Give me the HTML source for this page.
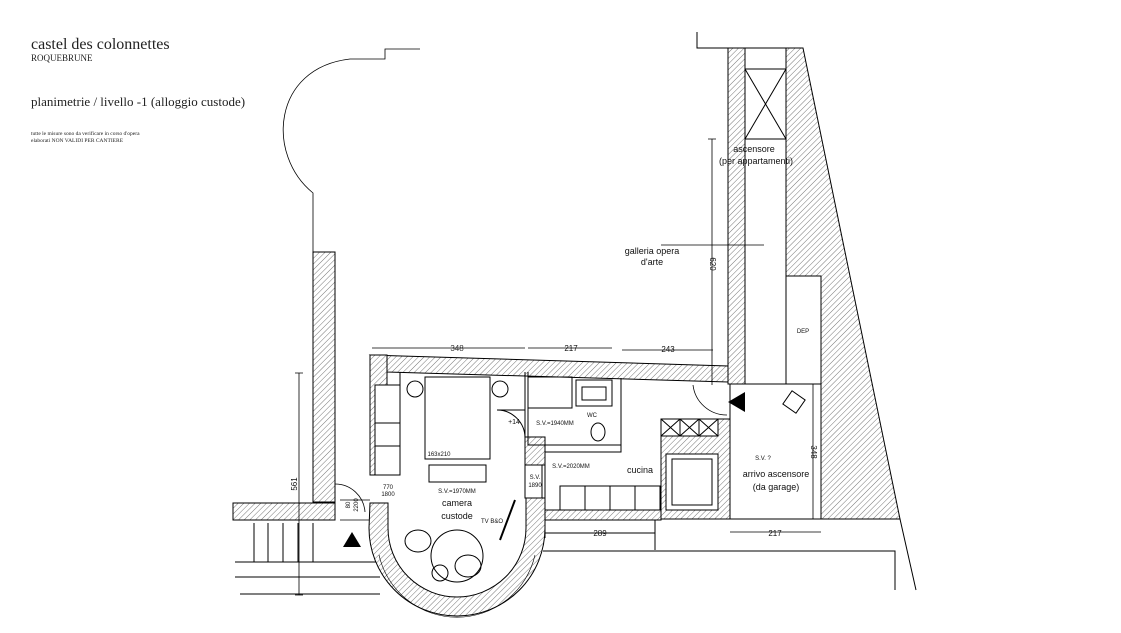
<!DOCTYPE html>
<html><head><meta charset="utf-8"><style>
body{margin:0;background:#fff;width:1121px;height:633px;overflow:hidden}
svg{display:block}
.t{font-family:"Liberation Serif",serif;fill:#222}
.s{font-family:"Liberation Sans",sans-serif;fill:#111}
</style></head><body>
<svg width="1121" height="633" viewBox="0 0 1121 633" xmlns="http://www.w3.org/2000/svg">
<defs>
<pattern id="h" width="4" height="4" patternUnits="userSpaceOnUse" patternTransform="rotate(45)">
<rect width="4" height="4" fill="#fff"/><line x1="0" y1="0" x2="0" y2="4" stroke="#777" stroke-width="1"/>
</pattern>
</defs>
<text class="t" x="31" y="49" font-size="16">castel des colonnettes</text>
<text class="t" x="31" y="61" font-size="9">ROQUEBRUNE</text>
<text class="t" x="31" y="106" font-size="13">planimetrie / livello -1 (alloggio custode)</text>
<text class="t" x="31" y="135" font-size="5.5">tutte le misure sono da verificare in corso d'opera</text>
<text class="t" x="31" y="142" font-size="5.5">elaborati NON VALIDI PER CANTIERE</text>

<g fill="none" stroke="#000" stroke-width="1">
<path d="M313 252 V193 C 266 155, 272 68, 350 59 H385 V49 H420" stroke-width="0.8"/>
<path d="M697 32 V48 H728"/>
<rect x="313" y="252" width="22" height="250" fill="url(#h)"/>
<path d="M233 503 H335 V520 H233 Z" fill="url(#h)"/>
<path d="M254 523 V562 M268 523 V562 M283 523 V562 M298 523 V562 M313 523 V562"/>
<path d="M235 562 H380 M235 577 H380 M240 594 H380"/>
<path d="M299 373 V595 M295 373 H303 M295 595 H303" stroke-width="0.8"/>
<path d="M335 484 A30 30 0 0 1 365 512 M340 500 H370 M340 520 H370" stroke-width="0.8"/>
<path d="M370 355 L728 366 V382 L387 372 Z" fill="url(#h)"/>
<path d="M370 355 H387 V475 H370 Z" fill="url(#h)"/>
<path d="M375 385 H400 V475 H375 Z" fill="#fff"/>
<path d="M375 423 H400 M375 446 H400 M400 372 V475"/>
<path d="M525 372 V440"/>
<rect x="525" y="437" width="20" height="28" fill="url(#h)"/>
<rect x="525" y="465" width="17" height="33" fill="#fff"/>
<path d="M370 503 H388 V528 A69 69 0 0 0 526 528 V498 H545 V528 A88 88 0 0 1 369 528 Z" fill="url(#h)"/>
<path d="M379 555 A80 80 0 0 0 535 555" stroke-width="0.6"/>
<rect x="425" y="377" width="65" height="82"/>
<rect x="429" y="465" width="57" height="17"/>
<circle cx="415" cy="389" r="8"/><circle cx="500" cy="389" r="8"/>
<circle cx="457" cy="556" r="26"/>
<ellipse cx="418" cy="541" rx="13" ry="11"/><ellipse cx="468" cy="566" rx="13" ry="11"/>
<circle cx="440" cy="573" r="8"/>
<path d="M500 540 L515 500" stroke-width="2"/>
<path d="M497 410 A28 28 0 0 1 525 438 M497 410 H525"/>
<path d="M528 372 V445 H621 V378"/>
<rect x="528" y="377" width="44" height="31"/>
<rect x="576" y="380" width="36" height="26"/><rect x="582" y="387" width="24" height="13"/>
<ellipse cx="598" cy="432" rx="7" ry="9"/>
<path d="M545 452 H621 V445 M545 452 V510"/>
<rect x="545" y="510" width="116" height="10" fill="url(#h)"/>
<path d="M560 486 H660 V510 H560 Z M585 486 V510 M610 486 V510 M635 486 V510"/>
<rect x="661" y="419" width="69" height="100" fill="url(#h)"/>
<rect x="661" y="419" width="57" height="17" fill="#fff"/>
<path d="M661 419 L680 436 M680 419 L661 436 M680 419 L699 436 M699 419 L680 436 M699 419 L718 436 M718 419 L699 436 M680 419 V436 M699 419 V436"/>
<rect x="666" y="454" width="52" height="56" fill="#fff"/><rect x="672" y="459" width="40" height="46"/>
<path d="M545 533 H655 M545 528 V538 M655 520 V550 M543 551 H655 M655 551 H895 V590"/>
<path d="M728 48 H803 L900 519 H821 V384 H786 V48 Z" fill="url(#h)"/>
<rect x="728" y="48" width="17" height="336" fill="url(#h)"/>
<rect x="745" y="69" width="41" height="70"/>
<path d="M745 69 L786 139 M786 69 L745 139"/>
<rect x="786" y="276" width="35" height="108" fill="#fff"/>
<path d="M730 384 H821 V519 H730 Z M730 519 H900 L916 590"/>
<path d="M712 139 V385 M708 139 H716 M661 245 H764" stroke-width="0.8"/>
<path d="M813 384 V519 M730 532 H821" stroke-width="0.8"/>
<path d="M693 385 A34 34 0 0 0 727 415" stroke-width="0.8"/>
<rect x="786" y="394" width="16" height="16" transform="rotate(35 794 402)"/>
<path d="M372 348 H525 M528 348 H612 M622 350 H713" stroke-width="0.8"/>
</g>
<polygon points="728,402 745,392 745,412" fill="#000"/>
<polygon points="352,532 343,547 361,547" fill="#000"/>
<g class="s" font-size="7" text-anchor="middle">
<text x="457" y="351" fill="#333" font-size="8">348</text>
<text x="571" y="351" font-size="8">217</text>
<text x="668" y="352" font-size="8">243</text>
<text x="754" y="152" font-size="9">ascensore</text>
<text x="756" y="164" font-size="9">(per appartamenti)</text>
<text x="652" y="254" font-size="9">galleria opera</text>
<text x="652" y="265" font-size="9">d'arte</text>
<text x="803" y="333" font-size="6">DEP</text>
<text x="763" y="460" font-size="6">S.V. ?</text>
<text x="776" y="477" font-size="9">arrivo ascensore</text>
<text x="776" y="490" font-size="9">(da garage)</text>
<text x="775" y="536" font-size="8">217</text>
<text x="600" y="536" font-size="8">289</text>
<text x="439" y="456" font-size="6">163x210</text>
<text x="457" y="493" font-size="6">S.V.=1970MM</text>
<text x="457" y="506" font-size="9">camera</text>
<text x="457" y="519" font-size="9">custode</text>
<text x="492" y="523" font-size="6">TV B&amp;O</text>
<text x="514" y="424" font-size="7">+14</text>
<text x="555" y="425" font-size="6">S.V.=1940MM</text>
<text x="592" y="417" font-size="6">WC</text>
<text x="571" y="468" font-size="6">S.V.=2020MM</text>
<text x="640" y="473" font-size="9">cucina</text>
<text x="535" y="479" font-size="6">S.V.</text>
<text x="535" y="487" font-size="6">1890</text>
<text x="388" y="489" font-size="6">770</text>
<text x="388" y="496" font-size="6">1800</text>
<text x="0" y="0" font-size="8" transform="translate(297 484) rotate(-90)">561</text>
<text x="0" y="0" font-size="8" transform="translate(710 264) rotate(90)">620</text>
<text x="0" y="0" font-size="8" transform="translate(811 452) rotate(90)">348</text>
<text x="0" y="0" font-size="6" transform="translate(350 505) rotate(-90)">80</text>
<text x="0" y="0" font-size="6" transform="translate(358 505) rotate(-90)">2200</text>
</g>
</svg>
</body></html>
